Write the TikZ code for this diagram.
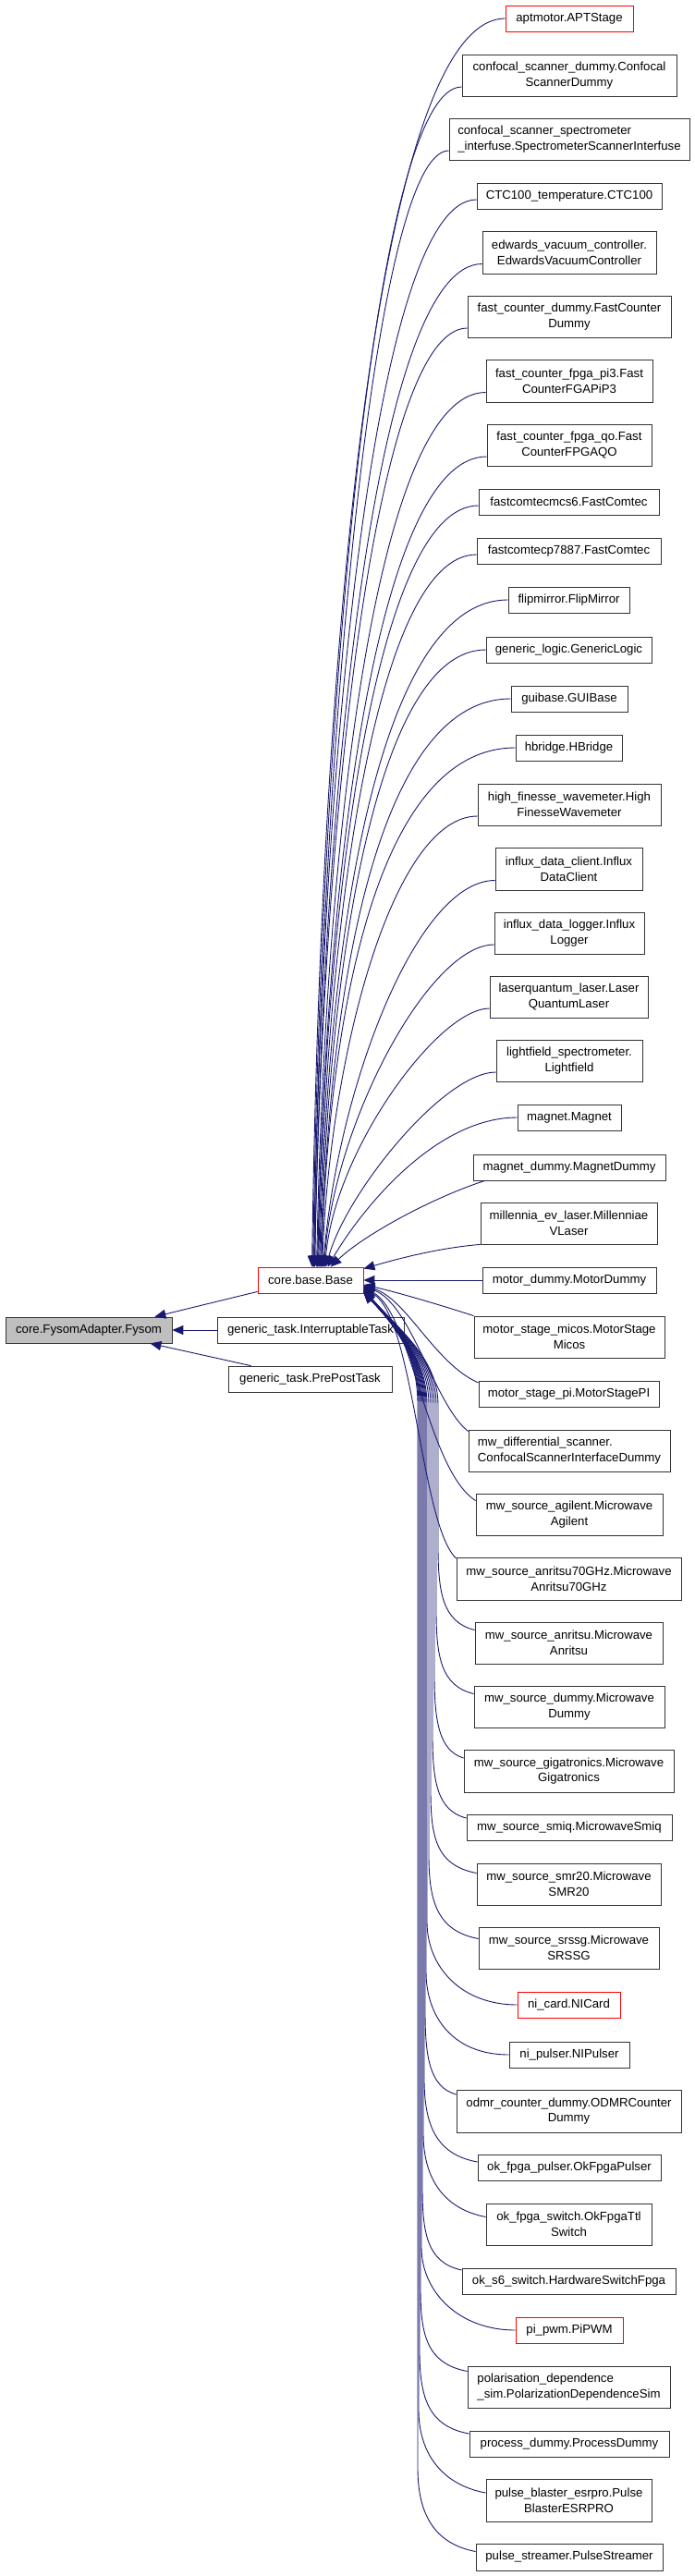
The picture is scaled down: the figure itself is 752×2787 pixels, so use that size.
\documentclass[tikz,border=0pt]{standalone}
\usepackage{fontspec}
\setmainfont{Liberation Sans}
\usetikzlibrary{arrows.meta,calc}
\definecolor{navy}{HTML}{191970}
\newcommand\fsz{\fontsize{13.2pt}{16.7pt}\selectfont}
\tikzset{
  cls/.style={draw=black!80, line width=0.8pt, inner sep=0pt, font=\fsz, align=center, fill=white},
  inh/.style={draw=navy, line width=0.9pt, {Triangle[length=12pt,width=10pt]}-},
}
\newcommand\cnode[6][]{\node[cls,#1,minimum width=#4pt,minimum height=#5pt] (#2) at (#3) {#6};}
\newcommand\UpE[4]{\draw[inh] ([xshift=#2pt]base.north west) .. controls (#3) and (#4) .. (#1);}
\newcommand\LoE[6]{\draw[inh] ([yshift=#2pt]base.east) .. controls (433,1440) and (#3,1470) .. (#3,1520) -- (#3,#4) .. controls (#3,#5) and (#6) .. (#1);}
\begin{document}
\begin{tikzpicture}[x=1pt,y=-1pt]
\useasboundingbox (0,0) rectangle (752,2787);
% left part
\cnode[fill=black!25]{fysom}{96,1439}{180}{28}{core.FysomAdapter.Fysom}
\cnode{itask}{336,1439}{202}{28}{generic\_task.InterruptableTask}
\cnode{pptask}{335.5,1492}{177}{28}{generic\_task.PrePostTask}
\cnode[draw=red]{base}{336,1385}{114}{28}{core.base.Base}
% right column
\cnode[draw=red]{aptmotor}{616,20}{138}{28}{aptmotor.APTStage}
\cnode{confdummy}{616,81.5}{232}{45}{confocal\_scanner\_dummy.Confocal\\ScannerDummy}
\cnode[align=left]{confspec}{616,150.5}{260}{45}{confocal\_scanner\_spectrometer\\\_interfuse.SpectrometerScannerInterfuse}
\cnode{ctc}{616,212}{200}{28}{CTC100\_temperature.CTC100}
\cnode{edwards}{616,273}{188}{46}{edwards\_vacuum\_controller.\\EdwardsVacuumController}
\cnode{fcdummy}{616,342.5}{220}{45}{fast\_counter\_dummy.FastCounter\\Dummy}
\cnode{fpgapi}{616,412}{180}{46}{fast\_counter\_fpga\_pi3.Fast\\CounterFGAPiP3}
\cnode{fpgaqo}{616,481.5}{178}{45}{fast\_counter\_fpga\_qo.Fast\\CounterFPGAQO}
\cnode{mcs}{615.5,543}{195}{28}{fastcomtecmcs6.FastComtec}
\cnode{p7887}{615.5,596}{199}{28}{fastcomtecp7887.FastComtec}
\cnode{flip}{615.5,649}{131}{28}{flipmirror.FlipMirror}
\cnode{glogic}{615.5,703}{179}{28}{generic\_logic.GenericLogic}
\cnode{gui}{616,756}{126}{28}{guibase.GUIBase}
\cnode{hbridge}{615.5,809}{115}{28}{hbridge.HBridge}
\cnode{hfw}{616,870.5}{198}{45}{high\_finesse\_wavemeter.High\\FinesseWavemeter}
\cnode{iclient}{615.5,940}{159}{46}{influx\_data\_client.Influx\\DataClient}
\cnode{ilogger}{616,1009.5}{162}{45}{influx\_data\_logger.Influx\\Logger}
\cnode{lq}{615.5,1078.5}{171}{45}{laserquantum\_laser.Laser\\QuantumLaser}
\cnode{lightfield}{616,1147.5}{158}{45}{lightfield\_spectrometer.\\Lightfield}
\cnode{magnet}{616,1209}{112}{28}{magnet.Magnet}
\cnode{magdummy}{616,1263}{208}{28}{magnet\_dummy.MagnetDummy}
\cnode{millennia}{615.5,1323.5}{191}{45}{millennia\_ev\_laser.Millenniae\\VLaser}
\cnode{motordummy}{616,1385}{188}{28}{motor\_dummy.MotorDummy}
\cnode{micos}{616,1446.5}{206}{45}{motor\_stage\_micos.MotorStage\\Micos}
\cnode{motorpi}{615.5,1508}{195}{28}{motor\_stage\_pi.MotorStagePI}
\cnode[align=left]{mwdiff}{616,1569.5}{218}{45}{mw\_differential\_scanner.\\ConfocalScannerInterfaceDummy}
\cnode{agilent}{616,1638.5}{202}{45}{mw\_source\_agilent.Microwave\\Agilent}
\cnode{anr70}{615.5,1708}{243}{46}{mw\_source\_anritsu70GHz.Microwave\\Anritsu70GHz}
\cnode{anritsu}{615.5,1777.5}{203}{45}{mw\_source\_anritsu.Microwave\\Anritsu}
\cnode{mwdummy}{616,1846.5}{206}{45}{mw\_source\_dummy.Microwave\\Dummy}
\cnode{giga}{615.5,1916}{227}{46}{mw\_source\_gigatronics.Microwave\\Gigatronics}
\cnode{smiq}{616,1977}{222}{28}{mw\_source\_smiq.MicrowaveSmiq}
\cnode{smr}{615.5,2038.5}{199}{45}{mw\_source\_smr20.Microwave\\SMR20}
\cnode{srssg}{615.5,2107.5}{195}{45}{mw\_source\_srssg.Microwave\\SRSSG}
\cnode[draw=red]{nicard}{615.5,2169}{111}{28}{ni\_card.NICard}
\cnode{nipulser}{616,2223}{130}{28}{ni\_pulser.NIPulser}
\cnode{odmr}{615.5,2284}{243}{46}{odmr\_counter\_dummy.ODMRCounter\\Dummy}
\cnode{okpulser}{616,2345}{198}{28}{ok\_fpga\_pulser.OkFpgaPulser}
\cnode{okswitch}{615.5,2406.5}{179}{45}{ok\_fpga\_switch.OkFpgaTtl\\Switch}
\cnode{oks6}{615.5,2468}{231}{28}{ok\_s6\_switch.HardwareSwitchFpga}
\cnode[draw=red]{pipwm}{616,2521}{116}{28}{pi\_pwm.PiPWM}
\cnode[align=left]{polar}{615.5,2582.5}{219}{45}{polarisation\_dependence\\\_sim.PolarizationDependenceSim}
\cnode{process}{616,2644}{216}{28}{process\_dummy.ProcessDummy}
\cnode{pblaster}{615.5,2705}{179}{46}{pulse\_blaster\_esrpro.Pulse\\BlasterESRPRO}
\cnode{pstreamer}{616,2766.5}{202}{29}{pulse\_streamer.PulseStreamer}
% left edges
\draw[inh] ([xshift=-19pt]fysom.north east) -- ([yshift=2pt]base.south west);
\draw[inh] (fysom.east) -- (itask.west);
\draw[inh] ([xshift=-24pt]fysom.south east) -- ([xshift=25pt]pptask.north west);
% upper far edges
\UpE{aptmotor.west}{59}{346,736}{405,20}
\UpE{[yshift=-12.5pt]confdummy.west}{60}{347,771}{405,94}
\UpE{[yshift=-12.5pt]confspec.west}{61}{348,803}{405,163}
\UpE{[yshift=-4pt]ctc.west}{61}{348,828}{405,216}
\UpE{[yshift=-12.5pt]edwards.west}{62}{349,861}{405,285.5}
\UpE{[yshift=-12.5pt]fcdummy.west}{62}{349,893}{405,355}
\UpE{[yshift=-12.5pt]fpgapi.west}{64}{351,926}{405,424.5}
\UpE{[yshift=-12.5pt]fpgaqo.west}{65}{352,959}{405,494}
\UpE{[yshift=-4pt]mcs.west}{65}{352,984}{405,547}
\UpE{[yshift=-4pt]p7887.west}{66}{353,1009}{405,600}
\UpE{flip.west}{67}{354,1032}{405,649}
\UpE{glogic.west}{68}{355,1057}{405,703}
\UpE{gui.west}{69}{356,1082}{405,756}
\UpE{hbridge.west}{69}{356,1107}{405,809}
\UpE{[yshift=-12.5pt]hfw.west}{70}{357,1142}{425,883}
% upper near edges
\draw[inh] ([xshift=71pt]base.north west) .. controls (365,1180) and (450,952.5) .. ([yshift=-12.5pt]iclient.west);
\draw[inh] ([xshift=72pt]base.north west) .. controls (362,1213) and (465,1022) .. ([yshift=-12.5pt]ilogger.west);
\draw[inh] ([xshift=73pt]base.north west) .. controls (362,1245) and (474,1091) .. ([yshift=-12.5pt]lq.west);
\draw[inh] ([xshift=74pt]base.north west) .. controls (375,1290) and (480,1160) .. ([yshift=-12.5pt]lightfield.west);
\draw[inh] ([xshift=76pt]base.north west) .. controls (390,1310) and (470,1209) .. (magnet.west);
\draw[inh] ([xshift=79pt]base.north west) .. controls (395,1335) and (470,1295) .. ([xshift=13pt]magdummy.south west);
\draw[inh] ([yshift=-2pt]base.north east) .. controls (430,1362) and (475,1350) .. (millennia.south west);
\draw[inh] (base.east) -- (motordummy.west);
% lower near edges
\draw[inh] ([yshift=-5pt]base.east) .. controls (430,1398) and (480,1413) .. (micos.north west);
\draw[inh] ([yshift=-6pt]base.east) .. controls (440,1405) and (470,1475) .. ([yshift=12pt]motorpi.west);
\draw[inh] ([yshift=-7pt]base.east) .. controls (445,1410) and (470,1520) .. ([yshift=21pt]mwdiff.west);
\draw[inh] ([yshift=-8pt]base.east) .. controls (445,1420) and (462,1590) .. ([yshift=15pt]agilent.west);
\draw[inh] ([yshift=-9pt]base.east) .. controls (448,1425) and (455,1650) .. ([yshift=22pt]anr70.west);
% lower far edges
\LoE{[yshift=14pt]anritsu.west}{-10}{474}{1673}{1723}{479,1755}
\LoE{[yshift=14pt]mwdummy.west}{-10}{472}{1742}{1792}{477,1824}
\LoE{[yshift=14pt]giga.west}{-10}{470}{1812}{1862}{475,1894}
\LoE{[yshift=10pt]smiq.west}{-11}{468}{1877}{1927}{473,1959}
\LoE{[yshift=12pt]smr.west}{-11}{466}{1936}{1986}{471,2018}
\LoE{[yshift=10pt]srssg.west}{-11}{464}{2007}{2057}{473,2089}
\LoE{nicard.west}{-12}{462}{2079}{2129}{500,2169}
\LoE{nipulser.west}{-12}{461}{2133}{2183}{491,2223}
\LoE{[yshift=18pt]odmr.west}{-12}{460}{2176}{2226}{465,2258}
\LoE{[yshift=6pt]okpulser.west}{-13}{459}{2249}{2299}{472,2331}
\LoE{[yshift=8pt]okswitch.west}{-13}{458}{2308}{2358}{481,2390}
\LoE{[yshift=12pt]oks6.west}{-13}{457}{2366}{2416}{462,2448}
\LoE{pipwm.west}{-13}{456}{2431}{2481}{498,2521}
\LoE{[yshift=17pt]polar.west}{-13}{455}{2475}{2525}{461,2557}
\LoE{[yshift=11pt]process.west}{-13}{454}{2543}{2593}{463,2625}
\LoE{[yshift=8pt]pblaster.west}{-13}{453}{2607}{2657}{481,2689}
\LoE{[yshift=6pt]pstreamer.west}{-13}{452}{2670}{2720}{470,2752}
\end{tikzpicture}
\end{document}
